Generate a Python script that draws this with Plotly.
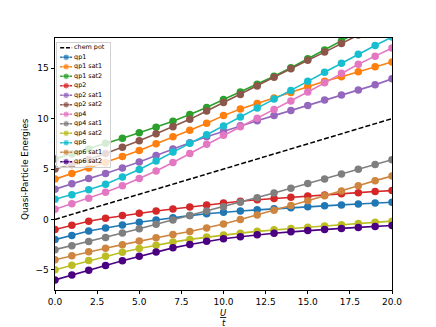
import plotly.graph_objects as go

# U/t grid and the curves
u_vals = [0, 1, 2, 3, 4, 5, 6, 7, 8, 9, 10, 11, 12, 13, 14, 15, 16, 17, 18, 19, 20]
chem_pot = [0.0, 0.5, 1.0, 1.5, 2.0, 2.5, 3.0, 3.5, 4.0, 4.5, 5.0,
            5.5, 6.0, 6.5, 7.0, 7.5, 8.0, 8.5, 9.0, 9.5, 10.0]

qp1 = [-2.0, -1.6, -1.15, -0.85, -0.55, -0.28, -0.05, 0.18, 0.38, 0.56, 0.72,
       0.83, 0.95, 1.06, 1.16, 1.26, 1.35, 1.44, 1.53, 1.62, 1.71]
qp1_sat1 = [4.0, 4.55, 5.1, 5.65, 6.25, 6.85, 7.5, 8.2, 8.85, 9.55, 10.3,
            10.95, 11.5, 12.05, 12.6, 13.2, 13.7, 14.15, 14.65, 15.15, 15.62]
qp1_sat2 = [6.0, 6.5, 7.0, 7.55, 8.05, 8.6, 9.15, 9.75, 10.4, 11.1, 11.9,
            12.65, 13.4, 14.2, 15.05, 15.95, 16.8, 17.7, 18.6, 19.5, 20.4]
qp2 = [-1.0, -0.58, -0.18, 0.12, 0.38, 0.62, 0.84, 1.03, 1.23, 1.43, 1.62,
       1.8, 1.95, 2.08, 2.2, 2.32, 2.43, 2.55, 2.66, 2.77, 2.86]
qp2_sat1 = [3.0, 3.55, 4.05, 4.55, 5.1, 5.7, 6.35, 7.0, 7.6, 8.2, 8.75,
            9.3, 9.8, 10.3, 10.8, 11.3, 11.85, 12.35, 12.85, 13.35, 13.95]
qp2_sat2 = [5.0, 5.45, 5.95, 6.55, 7.15, 7.8, 8.5, 9.2, 9.93, 10.75, 11.6,
            12.4, 13.25, 14.1, 14.95, 15.8, 16.6, 17.45, 18.3, 19.15, 20.0]
qp4 = [1.0, 1.55, 2.1, 2.7, 3.35, 4.05, 4.8, 5.65, 6.55, 7.45, 8.35,
       9.2, 10.05, 10.9, 11.75, 12.65, 13.55, 14.5, 15.4, 16.2, 17.0]
qp4_sat1 = [-3.0, -2.6, -2.2, -1.78, -1.35, -0.92, -0.48, -0.05, 0.4, 0.83, 1.26,
            1.7, 2.16, 2.63, 3.1, 3.56, 4.02, 4.5, 4.98, 5.45, 5.92]
qp4_sat2 = [-5.0, -4.55, -4.08, -3.65, -3.25, -2.88, -2.55, -2.25, -1.98, -1.75, -1.55,
            -1.36, -1.18, -1.02, -0.9, -0.77, -0.65, -0.53, -0.4, -0.28, -0.17]
qp6 = [2.0, 2.45, 2.95, 3.5, 4.2, 4.95, 5.8, 6.7, 7.55, 8.4, 9.27,
       10.16, 11.05, 11.95, 12.8, 13.7, 14.6, 15.5, 16.4, 17.25, 18.1]
qp6_sat1 = [-4.0, -3.6, -3.2, -2.85, -2.5, -2.15, -1.82, -1.5, -1.2, -0.85, -0.45,
            0.0, 0.45, 0.9, 1.38, 1.85, 2.35, 2.82, 3.35, 3.85, 4.3]
qp6_sat2 = [-6.0, -5.5, -5.03, -4.57, -4.1, -3.65, -3.22, -2.82, -2.48, -2.17, -1.92,
            -1.72, -1.53, -1.37, -1.23, -1.1, -0.99, -0.89, -0.79, -0.69, -0.6]

series_names = ["qp1", "qp1 sat1", "qp1 sat2", "qp2", "qp2 sat1", "qp2 sat2",
                "qp4", "qp4 sat1", "qp4 sat2", "qp6", "qp6 sat1", "qp6 sat2"]
series_values = [qp1, qp1_sat1, qp1_sat2, qp2, qp2_sat1, qp2_sat2,
                 qp4, qp4_sat1, qp4_sat2, qp6, qp6_sat1, qp6_sat2]
colors = ["#1f77b4", "#ff7f0e", "#2ca02c", "#d62728", "#9467bd", "#8c564b",
          "#e377c2", "#7f7f7f", "#bcbd22", "#17becf", "#cd853f", "#4b0082"]

x_ticks = [0, 2.5, 5, 7.5, 10, 12.5, 15, 17.5, 20]
y_ticks = [-5, 0, 5, 10, 15]

FONT = "DejaVu Sans"
dash = "5px,2.2px"

fig = go.Figure()

# main curves
fig.add_trace(go.Scatter(x=u_vals, y=chem_pot, mode="lines",
                         line=dict(color="black", width=1.5, dash=dash),
                         showlegend=False))
for name, vals, col in zip(series_names, series_values, colors):
    fig.add_trace(go.Scatter(x=u_vals, y=vals, mode="lines+markers", name=name,
                             line=dict(color=col, width=1.6),
                             marker=dict(color=col, size=7.5),
                             showlegend=False))

# matplotlib-like legend box drawn on a small inset axis (one row per entry)
legend_names = ["chem pot"] + series_names
legend_colors = ["black"] + colors
for i, (name, col) in enumerate(zip(legend_names, legend_colors)):
    if i == 0:
        fig.add_trace(go.Scatter(x=[60, 72], y=[i, i], mode="lines",
                                 line=dict(color=col, width=1.5, dash="4px,1.8px"),
                                 xaxis="x2", yaxis="y2", showlegend=False,
                                 hoverinfo="skip"))
    else:
        fig.add_trace(go.Scatter(x=[60, 66, 72], y=[i, i, i], mode="lines+markers",
                                 line=dict(color=col, width=1.6),
                                 marker=dict(color=col, size=[0, 6.5, 0]),
                                 xaxis="x2", yaxis="y2", showlegend=False,
                                 hoverinfo="skip"))
fig.add_trace(go.Scatter(x=[74] * len(legend_names), y=list(range(len(legend_names))),
                         mode="text", text=legend_names, textposition="middle right",
                         textfont=dict(family=FONT, size=6.4, color="black"),
                         cliponaxis=False, xaxis="x2", yaxis="y2",
                         showlegend=False, hoverinfo="skip"))

# the page body has an 8px margin, so the figure is 8px smaller and shifted
fig.update_layout(
    width=428, height=319,
    margin=dict(l=47, r=44, t=30, b=37),
    paper_bgcolor="white",
    plot_bgcolor="rgba(255,255,255,0.8)",
    font=dict(family=FONT, size=9, color="black"),
    showlegend=False,
    xaxis=dict(range=[0, 20], tickvals=x_ticks, tickformat=".1f",
               showgrid=False, zeroline=False, showline=True, mirror=True,
               linecolor="black", linewidth=0.8, ticks="outside", ticklen=3.5,
               tickwidth=0.8, tickcolor="black"),
    yaxis=dict(range=[-7, 18], tickvals=y_ticks,
               showgrid=False, zeroline=False, showline=True, mirror=True,
               linecolor="black", linewidth=0.8, ticks="outside", ticklen=3.5,
               tickwidth=0.8, tickcolor="black"),
    xaxis2=dict(domain=[0.005, 0.163], range=[56.5, 110], anchor="y2",
                showgrid=False, zeroline=False, showticklabels=False, ticks="",
                showline=True, mirror=True, linecolor="#d0d0d0", linewidth=0.8),
    yaxis2=dict(domain=[0.49, 0.982], range=[12.5, -0.55], anchor="x2",
                showgrid=False, zeroline=False, showticklabels=False, ticks="",
                showline=True, mirror=True, linecolor="#d0d0d0", linewidth=0.8),
    annotations=[
        dict(text="Quasi-Particle Energies", xref="paper", yref="paper",
             x=-0.089, y=0.48, xanchor="center", yanchor="middle",
             textangle=-90, showarrow=False, font=dict(family=FONT, size=8.8)),
        dict(text="<u><i>U</i></u>", xref="paper", yref="paper",
             x=0.5, y=0, xanchor="center", yanchor="middle", yshift=-23,
             showarrow=False, font=dict(family=FONT, size=8.5)),
        dict(text="<i>t</i>", xref="paper", yref="paper",
             x=0.5, y=0, xanchor="center", yanchor="middle", yshift=-33,
             showarrow=False, font=dict(family=FONT, size=8.5)),
    ],
)

fig.write_html("out.html")
